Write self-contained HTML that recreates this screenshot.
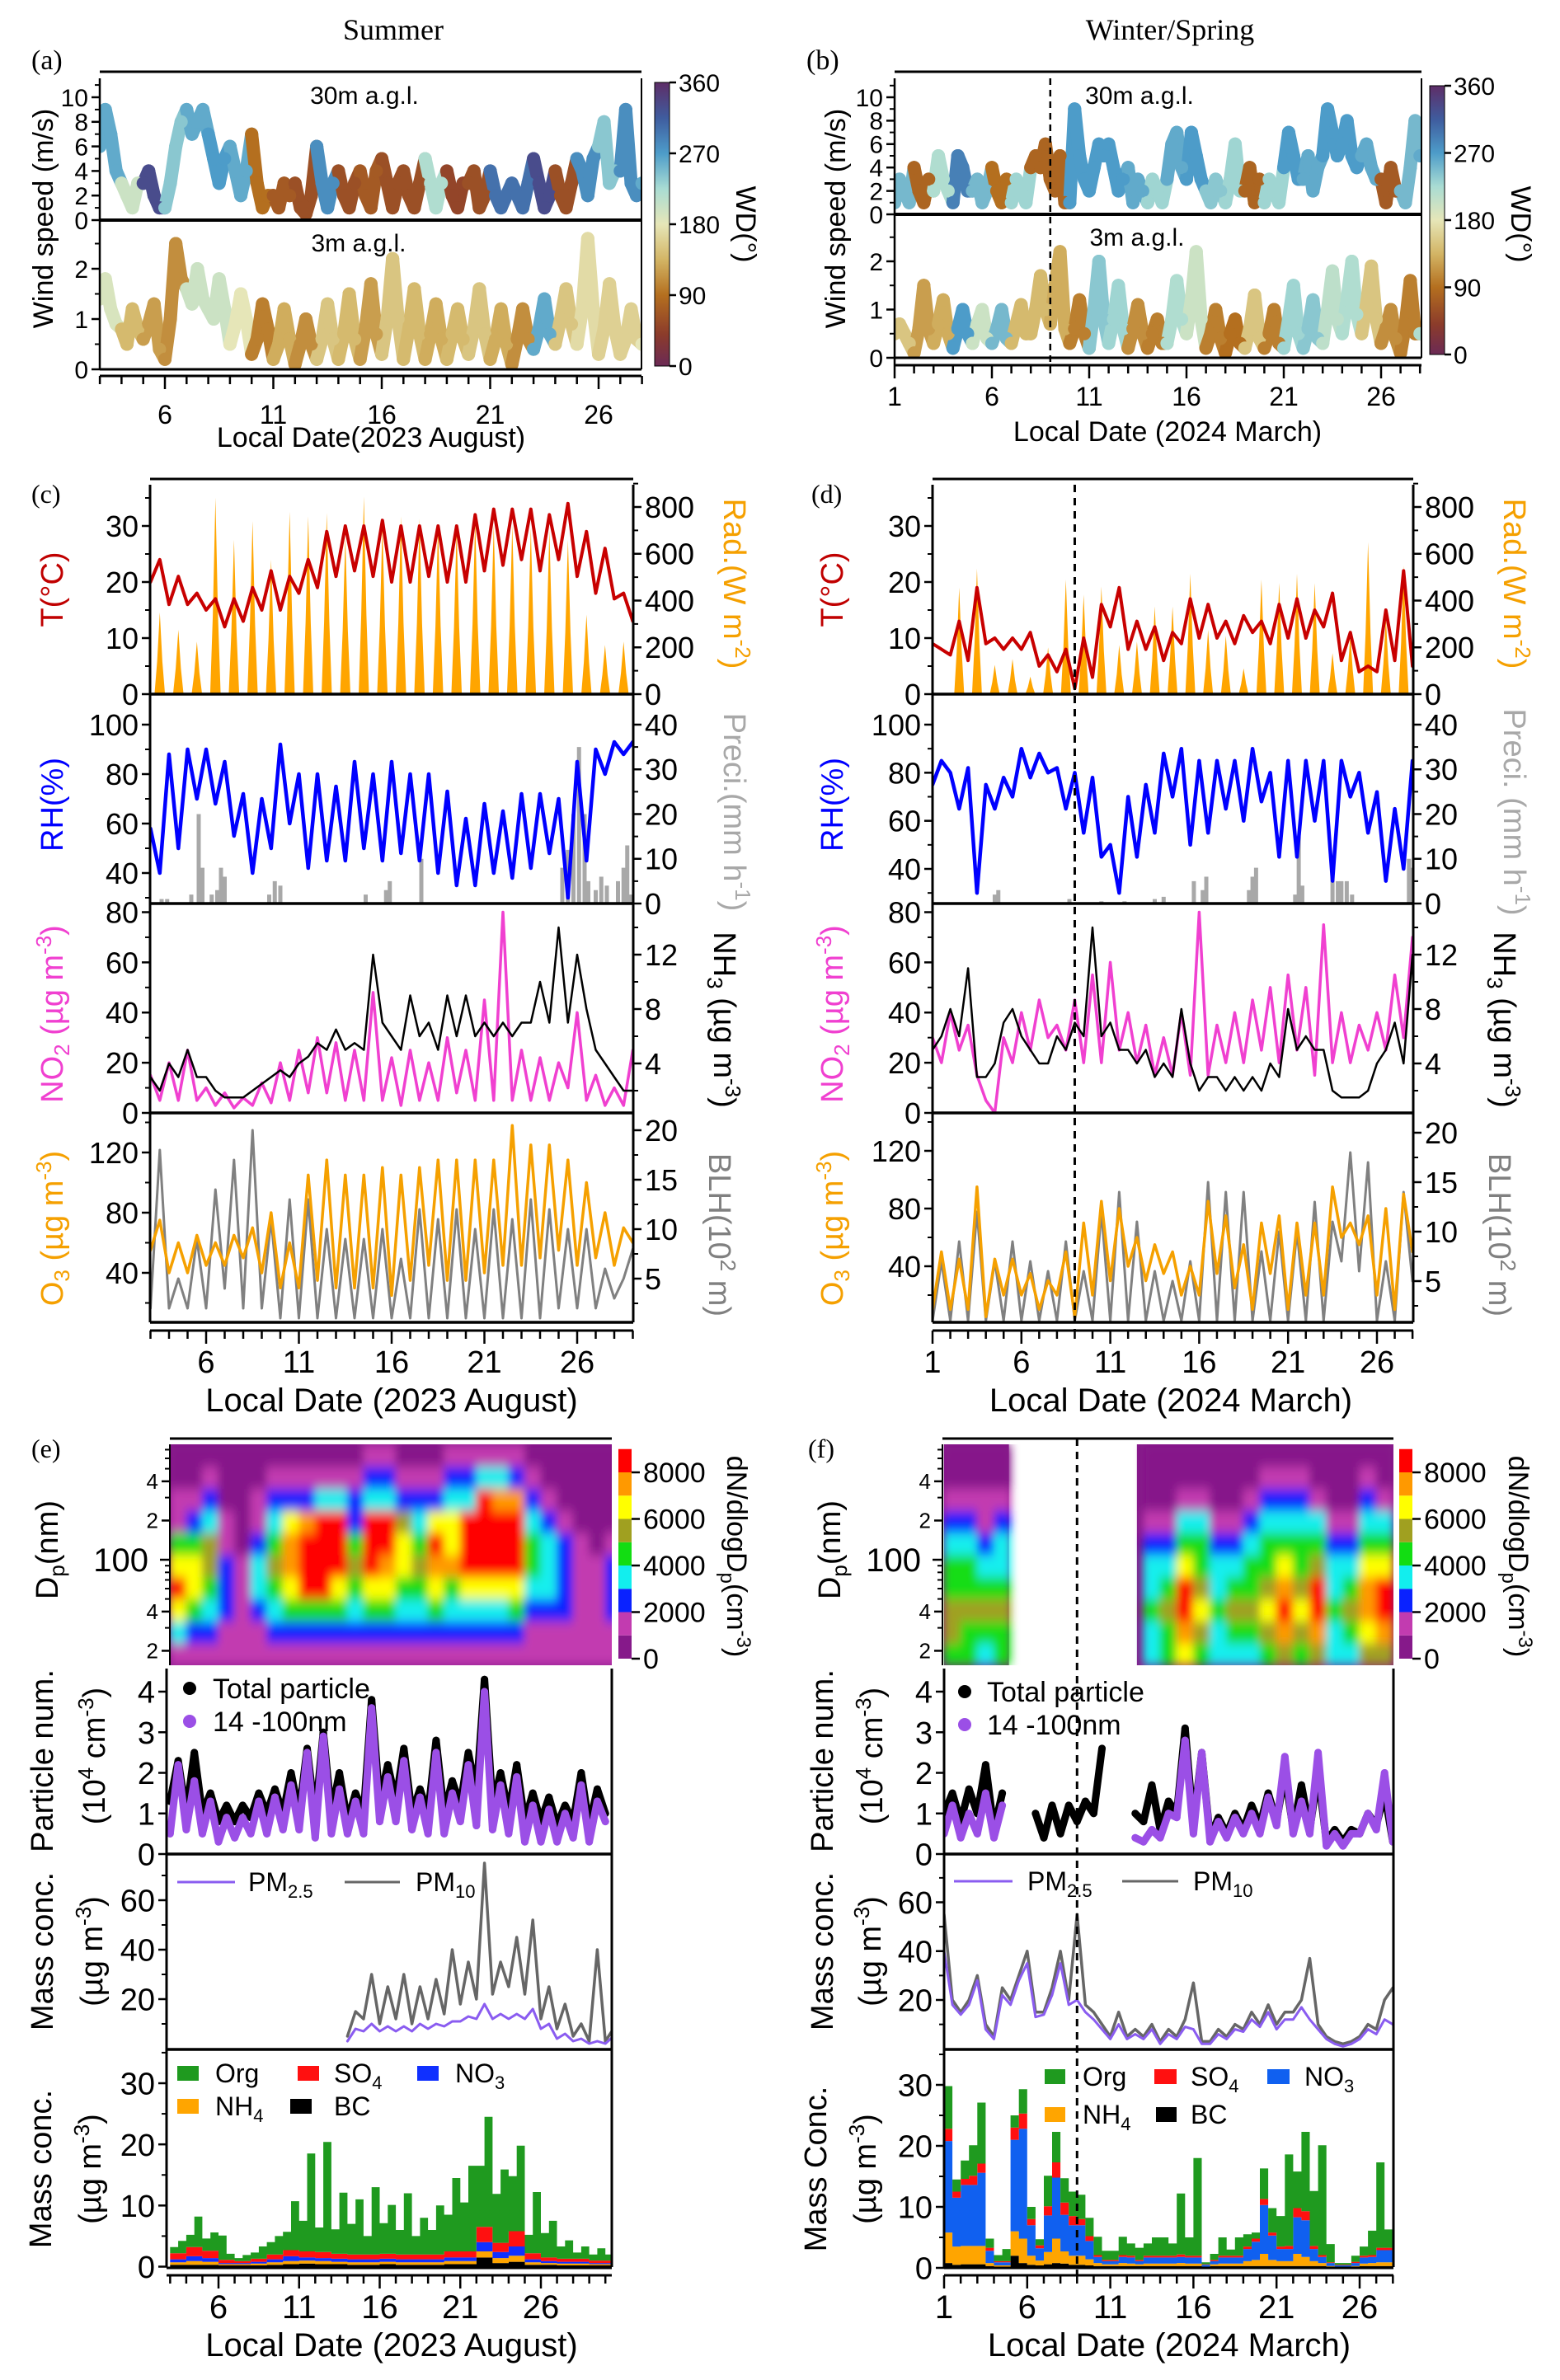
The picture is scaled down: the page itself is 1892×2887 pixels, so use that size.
<!DOCTYPE html>
<html><head><meta charset="utf-8"><title>Meteorology and aerosol time series</title>
<style>
html,body{margin:0;padding:0;background:#fff;}
svg{display:block;}
text{font-family:"Liberation Sans",Arial,sans-serif;fill:#000;}
.serif{font-family:"Liberation Serif","Times New Roman",serif;}
</style></head>
<body>
<svg id="fig" xmlns="http://www.w3.org/2000/svg" width="1892" height="2887" viewBox="0 0 1892 2887">
<defs>
<linearGradient id="wdgrad" x1="0" y1="1" x2="0" y2="0">
<stop offset="0" stop-color="#6b2a55"/><stop offset="0.11" stop-color="#8b3b2b"/><stop offset="0.25" stop-color="#b46f1f"/><stop offset="0.375" stop-color="#d3b565"/><stop offset="0.5" stop-color="#e6e6b8"/><stop offset="0.625" stop-color="#a9dcd3"/><stop offset="0.75" stop-color="#4d9cc9"/><stop offset="0.875" stop-color="#3f5c9e"/><stop offset="1" stop-color="#5e2d67"/>
</linearGradient>
<filter id="soft" x="0" y="0" width="1" height="1"><feGaussianBlur stdDeviation="5,7"/></filter>
<clipPath id="cA1"><rect x="121" y="90" width="657" height="177"/></clipPath>
<clipPath id="cA2"><rect x="121" y="267" width="657" height="181"/></clipPath>
<clipPath id="cB1"><rect x="1085" y="90" width="639" height="170"/></clipPath>
<clipPath id="cB2"><rect x="1085" y="260" width="639" height="174"/></clipPath>
<clipPath id="cC1"><rect x="182" y="588" width="586" height="254"/></clipPath>
<clipPath id="cC2"><rect x="182" y="842" width="586" height="254"/></clipPath>
<clipPath id="cC3"><rect x="182" y="1096" width="586" height="254"/></clipPath>
<clipPath id="cC4"><rect x="182" y="1350" width="586" height="254"/></clipPath>
<clipPath id="cD1"><rect x="1131" y="588" width="583" height="254"/></clipPath>
<clipPath id="cD2"><rect x="1131" y="842" width="583" height="254"/></clipPath>
<clipPath id="cD3"><rect x="1131" y="1096" width="583" height="254"/></clipPath>
<clipPath id="cD4"><rect x="1131" y="1350" width="583" height="256"/></clipPath>
<clipPath id="cE0"><rect x="206" y="1752" width="536" height="268"/></clipPath>
<clipPath id="cE1"><rect x="202" y="2024" width="540" height="225"/></clipPath>
<clipPath id="cE2"><rect x="202" y="2255" width="540" height="230"/></clipPath>
<clipPath id="cE3"><rect x="206" y="2490" width="536" height="260"/></clipPath>
<clipPath id="cF0"><rect x="1143" y="1752" width="547" height="268"/></clipPath>
<clipPath id="cF1"><rect x="1145" y="2024" width="545" height="225"/></clipPath>
<clipPath id="cF2"><rect x="1145" y="2255" width="545" height="230"/></clipPath>
<clipPath id="cF3"><rect x="1145" y="2490" width="545" height="261"/></clipPath>
</defs>

<text class="serif" x="477" y="48" font-size="36" text-anchor="middle">Summer</text>
<text class="serif" x="1419" y="48" font-size="36" text-anchor="middle">Winter/Spring</text>
<text class="serif" x="38" y="84" font-size="34">(a)</text>
<text class="serif" x="978" y="84" font-size="34">(b)</text>
<text class="serif" x="38" y="610" font-size="32">(c)</text>
<text class="serif" x="984" y="610" font-size="32">(d)</text>
<text class="serif" x="38" y="1768" font-size="32">(e)</text>
<text class="serif" x="980" y="1768" font-size="32">(f)</text>

<text x="442" y="126" font-size="30" text-anchor="middle">30m a.g.l.</text>
<text x="435" y="305" font-size="30" text-anchor="middle">3m a.g.l.</text>
<text transform="translate(64,265) rotate(-90)" font-size="34" text-anchor="middle">Wind speed (m/s)</text>
<text transform="translate(893,272) rotate(90)" font-size="34" text-anchor="middle">WD(°)</text>
<text x="450" y="542" font-size="34" text-anchor="middle">Local Date(2023 August)</text>
<text x="1382" y="126" font-size="30" text-anchor="middle">30m a.g.l.</text>
<text x="1379" y="298" font-size="30" text-anchor="middle">3m a.g.l.</text>
<text transform="translate(1025,265) rotate(-90)" font-size="34" text-anchor="middle">Wind speed (m/s)</text>
<text transform="translate(1833,272) rotate(90)" font-size="34" text-anchor="middle">WD(°)</text>
<text x="1416" y="535" font-size="34" text-anchor="middle">Local Date (2024 March)</text>

<text transform="translate(76,715) rotate(-90)" font-size="38" text-anchor="middle" style="fill:#c00000">T(°C)</text>
<text transform="translate(76,976) rotate(-90)" font-size="38" text-anchor="middle" style="fill:#0000ff">RH(%)</text>
<text transform="translate(76,1230) rotate(-90)" font-size="38" text-anchor="middle" style="fill:#f040d0">NO<tspan font-size="26" dy="8">2</tspan><tspan dy="-8"> (µg m</tspan><tspan font-size="26" dy="-14">-3</tspan><tspan dy="14">)</tspan></text>
<text transform="translate(76,1490) rotate(-90)" font-size="38" text-anchor="middle" style="fill:#f5a000">O<tspan font-size="26" dy="8">3</tspan><tspan dy="-8"> (µg m</tspan><tspan font-size="26" dy="-14">-3</tspan><tspan dy="14">)</tspan></text>
<text transform="translate(878,708) rotate(90)" font-size="38" text-anchor="middle" style="fill:#f5a000">Rad.(W m<tspan font-size="26" dy="-14">-2</tspan><tspan dy="14">)</tspan></text>
<text transform="translate(878,985) rotate(90)" font-size="38" text-anchor="middle" style="fill:#a8a8a8">Preci.(mm h<tspan font-size="26" dy="-14">-1</tspan><tspan dy="14">)</tspan></text>
<text transform="translate(866,1237) rotate(90)" font-size="38" text-anchor="middle">NH<tspan font-size="26" dy="8">3</tspan><tspan dy="-8"> (µg m</tspan><tspan font-size="26" dy="-14">-3</tspan><tspan dy="14">)</tspan></text>
<text transform="translate(860,1498) rotate(90)" font-size="38" text-anchor="middle" style="fill:#808080">BLH(10<tspan font-size="26" dy="-14">2</tspan><tspan dy="14"> m)</tspan></text>
<text x="475" y="1712" font-size="40" text-anchor="middle">Local Date (2023 August)</text>
<text transform="translate(1022,715) rotate(-90)" font-size="38" text-anchor="middle" style="fill:#c00000">T(°C)</text>
<text transform="translate(1022,976) rotate(-90)" font-size="38" text-anchor="middle" style="fill:#0000ff">RH(%)</text>
<text transform="translate(1022,1230) rotate(-90)" font-size="38" text-anchor="middle" style="fill:#f040d0">NO<tspan font-size="26" dy="8">2</tspan><tspan dy="-8"> (µg m</tspan><tspan font-size="26" dy="-14">-3</tspan><tspan dy="14">)</tspan></text>
<text transform="translate(1022,1490) rotate(-90)" font-size="38" text-anchor="middle" style="fill:#f5a000">O<tspan font-size="26" dy="8">3</tspan><tspan dy="-8"> (µg m</tspan><tspan font-size="26" dy="-14">-3</tspan><tspan dy="14">)</tspan></text>
<text transform="translate(1824,708) rotate(90)" font-size="38" text-anchor="middle" style="fill:#f5a000">Rad.(W m<tspan font-size="26" dy="-14">-2</tspan><tspan dy="14">)</tspan></text>
<text transform="translate(1824,985) rotate(90)" font-size="38" text-anchor="middle" style="fill:#a8a8a8">Preci. (mm h<tspan font-size="26" dy="-14">-1</tspan><tspan dy="14">)</tspan></text>
<text transform="translate(1812,1237) rotate(90)" font-size="38" text-anchor="middle">NH<tspan font-size="26" dy="8">3</tspan><tspan dy="-8"> (µg m</tspan><tspan font-size="26" dy="-14">-3</tspan><tspan dy="14">)</tspan></text>
<text transform="translate(1806,1498) rotate(90)" font-size="38" text-anchor="middle" style="fill:#808080">BLH(10<tspan font-size="26" dy="-14">2</tspan><tspan dy="14"> m)</tspan></text>
<text x="1420" y="1712" font-size="40" text-anchor="middle">Local Date (2024 March)</text>

<text transform="translate(70,1880) rotate(-90)" font-size="38" text-anchor="middle">D<tspan font-size="26" dy="8">p</tspan><tspan dy="-8">(nm)</tspan></text>
<text transform="translate(64,2136) rotate(-90)" font-size="38" text-anchor="middle">Particle num.</text>
<text transform="translate(127,2130) rotate(-90)" font-size="38" text-anchor="middle">(10<tspan font-size="26" dy="-14">4</tspan><tspan dy="14"> cm</tspan><tspan font-size="26" dy="-14">-3</tspan><tspan dy="14">)</tspan></text>
<text transform="translate(64,2367) rotate(-90)" font-size="38" text-anchor="middle">Mass conc.</text>
<text transform="translate(124,2367) rotate(-90)" font-size="38" text-anchor="middle">(µg m<tspan font-size="26" dy="-14">-3</tspan><tspan dy="14">)</tspan></text>
<text transform="translate(62,2631) rotate(-90)" font-size="38" text-anchor="middle">Mass conc.</text>
<text transform="translate(122,2631) rotate(-90)" font-size="38" text-anchor="middle">(µg m<tspan font-size="26" dy="-14">-3</tspan><tspan dy="14">)</tspan></text>
<text transform="translate(882,1888) rotate(90)" font-size="34" text-anchor="middle">dN/dlogD<tspan font-size="24" dy="8">p</tspan><tspan dy="-8">(cm</tspan><tspan font-size="24" dy="-12">-3</tspan><tspan dy="12">)</tspan></text>
<text x="475" y="2858" font-size="40" text-anchor="middle">Local Date (2023 August)</text>
<text transform="translate(1019,1880) rotate(-90)" font-size="38" text-anchor="middle">D<tspan font-size="26" dy="8">p</tspan><tspan dy="-8">(nm)</tspan></text>
<text transform="translate(1010,2136) rotate(-90)" font-size="38" text-anchor="middle">Particle num.</text>
<text transform="translate(1070,2130) rotate(-90)" font-size="38" text-anchor="middle">(10<tspan font-size="26" dy="-14">4</tspan><tspan dy="14"> cm</tspan><tspan font-size="26" dy="-14">-3</tspan><tspan dy="14">)</tspan></text>
<text transform="translate(1010,2367) rotate(-90)" font-size="38" text-anchor="middle">Mass conc.</text>
<text transform="translate(1068,2367) rotate(-90)" font-size="38" text-anchor="middle">(µg m<tspan font-size="26" dy="-14">-3</tspan><tspan dy="14">)</tspan></text>
<text transform="translate(1002,2631) rotate(-90)" font-size="38" text-anchor="middle">Mass Conc.</text>
<text transform="translate(1062,2631) rotate(-90)" font-size="38" text-anchor="middle">(µg m<tspan font-size="26" dy="-14">-3</tspan><tspan dy="14">)</tspan></text>
<text transform="translate(1830,1888) rotate(90)" font-size="34" text-anchor="middle">dN/dlogD<tspan font-size="24" dy="8">p</tspan><tspan dy="-8">(cm</tspan><tspan font-size="24" dy="-12">-3</tspan><tspan dy="12">)</tspan></text>
<text x="1418" y="2858" font-size="40" text-anchor="middle">Local Date (2024 March)</text>

<g id="marks"></g>
<g id="axes"></g>

<g>
<circle cx="230" cy="2048" r="8" fill="#000"/>
<text x="258" y="2060" font-size="34">Total particle</text>
<circle cx="230" cy="2088" r="8" fill="#9b4fe6"/>
<text x="258" y="2100" font-size="34">14 -100nm</text>
</g>
<g>
<circle cx="1170" cy="2052" r="8" fill="#000"/>
<text x="1197" y="2064" font-size="34">Total particle</text>
<circle cx="1170" cy="2092" r="8" fill="#9b4fe6"/>
<text x="1197" y="2104" font-size="34">14 -100nm</text>
</g>
<g>
<line x1="215" y1="2283" x2="285" y2="2283" stroke="#8a5cf0" stroke-width="3"/>
<text x="301" y="2294" font-size="32">PM<tspan font-size="22" dy="8">2.5</tspan></text>
<line x1="418" y1="2283" x2="485" y2="2283" stroke="#666" stroke-width="3"/>
<text x="504" y="2294" font-size="32">PM<tspan font-size="22" dy="8">10</tspan></text>
</g>
<g>
<line x1="1157" y1="2282" x2="1228" y2="2282" stroke="#8a5cf0" stroke-width="3"/>
<text x="1246" y="2293" font-size="32">PM<tspan font-size="22" dy="8">2.5</tspan></text>
<line x1="1361" y1="2282" x2="1429" y2="2282" stroke="#666" stroke-width="3"/>
<text x="1447" y="2293" font-size="32">PM<tspan font-size="22" dy="8">10</tspan></text>
</g>
<g>
<rect x="215" y="2506" width="26" height="18" fill="#1f9a1f"/>
<text x="261" y="2526" font-size="32">Org</text>
<rect x="361" y="2506" width="26" height="18" fill="#ff1010"/>
<text x="405" y="2526" font-size="32">SO<tspan font-size="22" dy="8">4</tspan></text>
<rect x="506" y="2506" width="26" height="18" fill="#1030ff"/>
<text x="552" y="2526" font-size="32">NO<tspan font-size="22" dy="8">3</tspan></text>
<rect x="215" y="2546" width="26" height="18" fill="#ffa500"/>
<text x="261" y="2566" font-size="32">NH<tspan font-size="22" dy="8">4</tspan></text>
<rect x="352" y="2546" width="26" height="18" fill="#000"/>
<text x="405" y="2566" font-size="32">BC</text>
</g>
<g>
<rect x="1267" y="2510" width="25" height="18" fill="#1f9a1f"/>
<text x="1313" y="2530" font-size="32">Org</text>
<rect x="1400" y="2510" width="27" height="18" fill="#ff1010"/>
<text x="1444" y="2530" font-size="32">SO<tspan font-size="22" dy="8">4</tspan></text>
<rect x="1537" y="2510" width="27" height="18" fill="#1060f0"/>
<text x="1582" y="2530" font-size="32">NO<tspan font-size="22" dy="8">3</tspan></text>
<rect x="1267" y="2556" width="25" height="18" fill="#ffa500"/>
<text x="1313" y="2576" font-size="32">NH<tspan font-size="22" dy="8">4</tspan></text>
<rect x="1402" y="2556" width="25" height="18" fill="#000"/>
<text x="1444" y="2576" font-size="32">BC</text>
</g>
</svg>

<script>
// ---------------- DATA ----------------
const wsA30 = [6,9,7,4, 3,2,1,3, 3,4,2,1, 1,3,6,8, 9,7,8,9, 7,5,3,5, 6,4,2,4, 7,3,1,2, 2,1,3,2, 3,1,0.5,2, 6,3,1,3, 4,2,1,3, 4,2,1,4, 5,3,1,3, 4,2,1,3, 5,3,1,3, 4,2,1,3, 3,4,1,2, 4,2,1,2, 3,2,1,3, 5,3,1,2, 4,2,1,3, 5,4,2,5, 6,8,3,4, 4,9,3,2, 3];
const dirA30 = [260,200,330,240,260,270,260,90,70,60,280,60,70,60,60,220,50,60,300,300,330,60,280,240,280,260];
const wsA3 = [1.4,1.8,1.2,0.9, 0.8,0.5,1.2,0.8, 0.6,0.9,1.3,0.4, 0.2,1.0,2.5,1.8, 1.6,1.3,2.0,1.4, 1.2,1.0,1.8,1.2, 0.5,0.9,1.5,1.0, 0.3,0.6,1.3,0.8, 0.2,0.5,1.2,0.6, 0.1,0.5,1.0,0.5, 0.2,0.6,1.3,0.6, 0.2,0.7,1.5,0.6, 0.2,0.8,1.7,0.7, 0.3,1.0,2.2,1.0, 0.2,0.8,1.6,0.7, 0.2,0.7,1.3,0.6, 0.2,0.7,1.2,0.6, 0.3,0.8,1.6,0.7, 0.2,0.6,1.2,0.5, 0.1,0.6,1.2,0.6, 0.4,0.8,1.4,0.7, 0.5,1.0,1.6,0.9, 0.5,1.2,2.6,1.2, 0.3,0.8,1.7,0.8, 0.3,0.6,1.2,0.6, 0.5];
const dirA3 = [190,140,120,110,200,200,180,100,130,110,150,140,120,150,140,130,140,150,130,110,260,150,170,160,160,180];
const wsB30 = [1,3,2,1, 4,2,1,3, 2,5,3,2, 1,5,4,2, 2,3,1,2, 4,2,1,3, 1,3,2,1, 4,5,4,6, 3,2,5,1, 1,9,5,3, 2,4,6,5, 6,4,2,3, 4,1,3,2, 1,3,2,1, 3,6,7,4, 3,7,5,3, 2,1,3,2, 1,3,6,2, 2,4,1,3, 1,3,2,1, 4,7,5,3, 3,5,2,4, 5,9,7,5, 6,8,5,4, 5,6,4,3, 3,1,4,2, 2,1,4,8, 5];
const dirB30 = [250,80,220,290,250,90,230,80,80,270,270,270,260,230,260,270,240,230,80,230,270,260,270,270,260,70,250,260];
const wsB3 = [0.5,0.7,0.5,0.3, 0.1,0.6,1.5,0.6, 0.3,0.7,1.2,0.5, 0.2,0.6,1.0,0.5, 0.3,0.7,1.0,0.4, 0.3,0.6,1.0,0.4, 0.3,0.7,1.1,0.5, 0.5,1.0,1.7,1.0, 0.7,1.5,2.2,0.6, 0.3,0.6,1.2,0.5, 0.2,1.0,2.0,0.8, 0.3,0.8,1.5,0.6, 0.2,0.6,1.1,0.5, 0.2,0.5,0.8,0.3, 0.3,0.8,1.6,0.8, 0.5,1.2,2.2,0.8, 0.2,0.5,1.0,0.4, 0.1,0.5,0.8,0.3, 0.2,0.6,1.3,0.4, 0.2,0.5,1.0,0.3, 0.2,0.8,1.5,0.5, 0.2,0.6,1.2,0.4, 0.3,1.0,1.8,0.8, 0.5,1.2,2.0,0.9, 0.5,1.1,1.9,0.8, 0.3,0.6,1.0,0.4, 0.1,0.7,1.6,0.5, 0.5];
const dirB3 = [150,120,130,270,200,250,140,140,130,100,240,230,110,100,220,200,100,90,150,100,230,240,210,220,150,110,100,220];

const tempS = [20,24,16,21,16,18,15,17,12,17,13,19,15,22,15,21,18,24,19,29,21,30,22,30,21,31,20,30,20,30,21,30,20,30,20,32,22,33,23,33,24,33,22,32,24,34,21,29,18,26,17,18,13];
const radS = [350,275,225,840,660,740,575,780,760,775,675,845,725,760,750,725,710,750,725,725,710,700,660,340,210,225];
const rhS = [58,40,88,50,90,70,90,68,85,55,72,40,70,50,92,60,80,42,80,45,75,45,85,50,80,45,85,48,80,45,80,40,73,35,62,35,68,40,65,38,72,42,72,48,70,30,85,45,90,80,93,88,93];
const preciDayS = [3.6,3.9,5.2,5.6,5.8,6.3,6.6,6.8,7.0,9.4,9.7,10.0,14.6,15.7,15.9,17.6,25.2,25.5,25.8,26.1,26.4,26.6,27.0,27.3,27.6,28.2,28.5,28.7,28.9];
const preciValS = [1,1,2,20,8,2,3,8,6,2,5,4,2,3,5,10,8,12,20,35,20,5,3,6,4,5,8,13,2];
const no2S = [15,5,20,5,25,5,10,3,8,2,6,3,12,4,20,5,25,8,30,8,28,5,25,5,48,5,22,3,25,5,20,5,30,8,25,5,45,5,80,5,25,5,22,5,20,10,40,5,15,3,10,3,25];
const nh3S = [3,2,4,3,5,3,3,2,1.5,1.5,1.5,2,2.5,3,3.5,3,4,4.5,5.5,5,6.5,5,5.5,5,12,7,6,5,9,6,7,5,9,6,9,6,7,6,7,6,7,7,10,7,14,7,12,8,5,4,3,2,2];
const o3S = [55,75,40,60,40,65,45,60,45,65,50,70,40,80,30,60,30,105,35,115,30,105,30,105,30,110,25,105,35,110,45,115,35,115,35,115,40,115,45,138,45,125,50,125,55,115,45,100,50,80,45,70,60];
const blhS = [2,18,2,5,2,9,2,14,4,17,2,20,2,11,1,13,1,13,1,10,1,9,1,9,1,10,1,7,1,12,1,11,1,12,1,10,1,12,1,11,1,13,1,12,2,10,2,10,2,6,3,5,8];
const tempW = [9,8,7,13,6,19,9,10,8,10,8,11,5,7,4,8,1,10,3,16,12,19,8,13,8,12,6,11,9,17,10,16,10,13,9,14,11,13,9,16,10,17,10,15,12,18,6,11,4,5,4,15,6,22,5];
const radW = [0,455,537,125,150,75,200,490,425,460,210,225,375,375,515,275,250,110,490,475,515,475,175,250,650,325,550];
const rhW = [75,85,80,65,82,30,75,65,78,70,90,78,88,80,82,65,80,55,78,45,50,30,70,45,75,55,88,70,90,50,85,55,85,65,85,60,90,68,80,45,85,45,85,60,85,35,85,70,80,55,72,35,65,40,85];
const preciDayW = [4.5,4.7,8.7,10.5,11.8,13.5,14.0,15.7,16.2,16.4,18.8,19.0,19.2,21.4,21.6,21.8,23.5,23.8,24.0,24.3,24.6,27.8,28.0];
const preciValW = [2,3,1,0.5,0.5,1,1.5,5,3,6,3,6,8,2,15,4,6,5,5,5,2,10,8];
const no2W = [30,20,40,25,35,15,5,0,30,20,40,25,45,30,35,25,45,20,55,20,60,25,40,20,35,15,30,15,40,15,80,15,35,20,40,20,45,25,50,20,55,25,50,15,75,20,40,20,35,25,40,25,55,30,70];
const nh3W = [5,6,8,6,11,3,3,4,7,8,6,5,4,4,6,5,7,6,14,6,7,5,5,4,5,3,4,3,8,4,2,3,3,2,3,2,3,2,4,3,8,5,6,5,5,2,1.5,1.5,1.5,2,4,5,7,4,12];
const o3W = [10,50,10,45,10,95,5,45,20,45,20,35,10,30,20,50,5,70,20,85,30,80,40,60,30,55,35,50,20,40,20,85,35,75,25,55,10,70,35,75,10,70,20,70,20,95,60,70,55,75,20,80,10,90,50];
const blhW = [1,7,1,9,1,12,1,7,1,9,1,7,1,6,1,9,1,6,1,12,1,14,1,11,1,6,1,5,1,7,1,15,1,14,1,14,1,8,1,10,1,10,1,13,1,11,7,18,6,17,1,7,1,14,5];

const heatE = ["1368641100","1246642100","1234553210","1122211000","1111100000","1123321100","1234543210","1246776210","1248887210","1248888310","1246888310","1234542210","1246888321","1246788321","1234665210","1234543210","1246786210","1234766321","1236888321","1236888831","1236888731","1246888721","1123443210","1123332100","1122221000","1111110000","1111100000","1122210000"];
const heatF = ["4554432100","4454432100","3454321100","4454332100","","","","","","","","","3343321000","4454321000","6788643100","4565443100","3343321000","3454321000","3454432100","4565443210","5787643210","4565443210","5788543100","3343321000","3454321000","5677643210","5788643100"];

const pnTotE = [1.3,2.3,1,2.5,1,1.5,0.8,1.2,0.8,1.2,0.9,1.5,1,1.6,1,2.0,1,2.6,0.9,3.0,1,2.0,0.8,1.5,1,3.8,1.3,2.2,1.3,2.6,1,1.6,1,2.8,1,1.8,1.2,2.5,1.5,4.3,1.2,2.0,1,2.2,0.8,1.5,0.8,1.4,0.7,1.2,0.8,2.0,0.7,1.6,1.0];
const pnUfE = [0.5,2.2,0.6,1.8,0.5,1.3,0.3,0.9,0.4,0.9,0.5,1.3,0.5,1.4,0.6,1.7,0.6,2.5,0.4,2.9,0.5,1.6,0.5,1.3,0.5,3.6,0.8,1.9,0.8,2.3,0.6,1.4,0.5,2.5,0.5,1.5,0.8,2.2,0.7,4.0,0.6,1.7,0.5,1.9,0.3,1.2,0.3,1.1,0.3,1.0,0.4,1.7,0.3,1.3,0.8];
const pnTotF = [1.0,1.5,0.8,1.6,1.0,2.2,0.6,1.5,null,null,null,1.0,0.4,1.2,0.5,1.2,0.8,1.3,1.0,2.6,null,null,null,1.0,0.8,1.7,0.6,1.3,1.0,3.1,0.7,2.5,0.4,0.9,0.5,1.0,0.6,1.2,0.7,1.5,0.8,2.0,0.6,1.7,0.6,2.0,0.3,0.6,0.3,0.6,0.5,1.0,0.7,1.5,0.3];
const pnUfF = [0.5,1.2,0.4,1.0,0.5,1.5,0.4,1.2,null,null,null,null,null,null,null,null,null,null,null,null,null,null,null,0.4,0.3,0.6,0.4,1.0,0.9,2.8,0.5,2.5,0.3,0.8,0.4,0.9,0.5,1.0,0.5,1.4,0.7,2.4,0.5,1.3,0.5,2.5,0.2,0.5,0.2,0.5,0.5,1.0,0.6,2.0,0.3];

const pm10E = [5,15,12,30,10,25,12,30,10,25,12,28,14,40,18,35,20,75,22,35,25,45,22,52,12,25,8,18,5,10,3,40,3,8,10];
const pm25E = [3,8,7,10,7,9,7,9,7,10,8,10,9,11,11,13,12,18,12,14,12,14,12,16,8,10,4,6,3,4,2,3,2,5,4];
const pm10F = [55,20,15,20,30,10,5,25,20,30,40,15,15,25,40,20,55,18,15,10,5,15,5,8,5,10,3,8,5,12,27,3,3,8,5,10,8,15,10,18,10,15,15,20,37,10,5,3,2,3,5,10,8,20,25,3];
const pm25F = [40,18,14,18,28,8,4,22,18,28,35,13,14,22,35,18,20,15,12,8,4,10,4,6,4,8,2,6,4,9,8,2,2,6,4,8,7,12,9,15,8,12,12,17,12,8,4,2,1,2,4,8,6,12,10,2];

const orgE = [1,2,2,5,2,3,4,1,0.5,1,1,2,2,3,3,8,5,16,4,18,4,10,5,9,3,11,5,8,4,10,3,6,4,8,6,12,8,14,10,18,8,12,9,14,3,10,4,6,2,3,1,2,1,2,1,2];
const so4E = [1,1.5,1.2,0.5,0.3,0.5,0.8,1,1,1,0.8,0.8,0.8,0.8,0.8,0.8,0.8,1,1,2.5,1.5,2.5,1,0.6,0.5,0.5,0.4,0.4];
const no3E = [0.5,0.8,0.6,0.2,0.2,0.3,0.5,0.8,0.5,0.5,0.5,0.5,0.5,0.5,0.5,0.5,0.5,0.6,0.6,1.5,1,1.5,0.5,0.3,0.3,0.3,0.2,0.2];
const nh4E = [0.4,0.6,0.5,0.2,0.2,0.3,0.4,0.5,0.5,0.5,0.4,0.4,0.4,0.4,0.4,0.4,0.4,0.5,0.5,1,0.8,1,0.4,0.3,0.3,0.3,0.2,0.2];
const bcE = [0.3,0.3,0.3,0.2,0.2,0.2,0.3,0.4,0.5,0.4,0.4,0.3,0.3,0.4,0.3,0.3,0.3,0.4,0.4,1.5,0.6,0.8,0.3,0.3,0.2,0.2,0.2,0.2];
const orgF = [7,2,3,5,10,1.5,1,2,2,4,2,1,5,5,4,4,4,3,3,1.5,1.5,3,2,2,2,3,3,2,10,3,16,0.3,1,3,1,3,2,1,5,4,5,15,6,13,9,18,3,0.3,0.3,1,1.5,4,14,3,5,1];
const no3F = [15,8,10,10,12,2,0.5,0.5,15,18,5,2,6,10,6,5,5,3,1,0.5,0.5,1,1,0.5,1,1,1,1,1,1,1,0.3,0.5,1,1,1,2,3,8,4,2,2,6,6,2,1,0.5,0.2,0.2,0.5,1,1,2,2,6,1];
const so4F = [2,1,1,1.5,1.5,0.5,0.2,0.2,2,2.5,1,0.5,1.5,2.5,2,1.5,1,0.8,0.3,0.2,0.2,0.3,0.3,0.2,0.3,0.3,0.3,0.3,0.4,0.3,0.3,0.1,0.2,0.3,0.3,0.3,0.4,0.5,1,0.5,0.4,0.5,1.5,1.5,0.5,0.3,0.1,0.1,0.1,0.2,0.3,0.3,0.4,0.4,0.5,0.1];
const nh4F = [5,3,3,3,3,0.5,0.2,0.2,4,4,1.5,0.8,2,4,2,1.5,1.5,1,0.5,0.3,0.3,0.5,0.4,0.3,0.4,0.4,0.4,0.4,0.5,0.4,0.4,0.1,0.3,0.4,0.4,0.4,0.8,1,2,1,0.8,0.8,2,1.5,0.8,0.5,0.2,0.1,0.1,0.2,0.4,0.5,0.6,0.6,1.5,0.2];
const bcF = [0.8,0.5,0.6,0.6,0.6,0.3,0.2,0.2,2,0.8,0.5,0.4,0.6,0.8,0.7,0.5,0.5,0.4,0.3,0.3,0.3,0.3,0.3,0.3,0.3,0.3,0.3,0.3,0.3,0.3,0.3,0.1,0.3,0.3,0.3,0.3,0.3,0.3,0.3,0.3,0.3,0.3,0.3,0.3,0.3,0.3,0.1,0.1,0.1,0.1,0.3,0.3,0.3,0.3,0.4,0.1];

const dayTicksS = [6,11,16,21,26];
const dayTicksW = [1,6,11,16,21,26];
const wdTicks = [0,90,180,270,360];
const heatTicks = [0,2000,4000,6000,8000];

// ---------------- DRAWING ----------------
const NS = 'http://www.w3.org/2000/svg';
const marks = document.getElementById('marks');
const axes = document.getElementById('axes');
function mk(parent, tag, attrs) {
  const el = document.createElementNS(NS, tag);
  for (const k in attrs) el.setAttribute(k, attrs[k]);
  parent.appendChild(el);
  return el;
}
function nm(el, n) {
  
  
}
function lin(v0, p0, v1, p1) { return v => p0 + (v - v0) * (p1 - p0) / (v1 - v0); }
function grp(clip, name) {
  const g = mk(marks, 'g', clip ? {'clip-path': 'url(#' + clip + ')'} : {});
  nm(g, name);
  return g;
}

const WDS = [[0,[107,42,85]],[40,[139,59,43]],[90,[180,111,31]],[135,[211,181,101]],[180,[230,230,184]],[225,[169,220,211]],[270,[77,156,201]],[315,[63,92,158]],[360,[94,45,103]]];
function wdColor(d) {
  for (let i = 0; i < WDS.length - 1; i++) {
    if (d <= WDS[i+1][0]) {
      const t = (d - WDS[i][0]) / (WDS[i+1][0] - WDS[i][0]);
      const c = WDS[i][1].map((v, j) => Math.round(v + t * (WDS[i+1][1][j] - v)));
      return 'rgb(' + c.join(',') + ')';
    }
  }
  return 'rgb(94,45,103)';
}

function linePath(g, vals, start, step, xf, yf, color, w, name) {
  let d = '', pen = false;
  vals.forEach((v, i) => {
    if (v === null) { pen = false; return; }
    d += (pen ? 'L' : 'M') + xf(start + i * step).toFixed(1) + ',' + yf(v).toFixed(1);
    pen = true;
  });
  const p = mk(g, 'path', {d: d, fill: 'none', stroke: color, 'stroke-width': w, 'stroke-linejoin': 'round', 'stroke-linecap': 'round'});
  nm(p, name);
  return p;
}

function windScatter(g, vals, dirs, start, xf, yf, name) {
  for (let i = 1; i < vals.length; i++) {
    const c = wdColor(dirs[Math.min(dirs.length - 1, Math.floor((i - 1) / 4))]);
    const s = mk(g, 'line', {x1: xf(start + (i-1)*0.25), y1: yf(vals[i-1]), x2: xf(start + i*0.25), y2: yf(vals[i]), stroke: c, 'stroke-width': 16, 'stroke-linecap': 'round'});
    nm(s, name + '-segment');
  }
  vals.forEach((v, i) => {
    const c = wdColor(dirs[Math.min(dirs.length - 1, Math.floor(i / 4))]);
    const p = mk(g, 'circle', {cx: xf(start + i*0.25), cy: yf(v), r: 8, fill: c});
    nm(p, name + '-point');
  });
}

function radSpikes(g, vals, start, xf, yf, name) {
  vals.forEach((v, i) => {
    const d = start + i;
    const pts = [[d+0.22,0],[d+0.36,v*0.4],[d+0.5,v],[d+0.64,v*0.4],[d+0.78,0]].map(p => xf(p[0]).toFixed(1) + ',' + yf(p[1]).toFixed(1)).join(' ');
    const s = mk(g, 'polygon', {points: pts, fill: '#ffa500'});
    nm(s, name);
  });
}

function bars(g, days, vals, xf, yf, color, name) {
  days.forEach((d, i) => {
    const r = mk(g, 'rect', {x: xf(d) - 2.5, y: yf(vals[i]), width: 5, height: yf(0) - yf(vals[i]), fill: color});
    nm(r, name);
  });
}

function dots(g, vals, start, step, xf, yf, color, name) {
  linePath(g, vals, start, step, xf, yf, color, 9, name + '-trace');
  vals.forEach((v, i) => {
    if (v === null) return;
    const c = mk(g, 'circle', {cx: xf(start + i*step), cy: yf(v), r: 4.5, fill: color});
    nm(c, name + '-point');
  });
}

const HEATC = ['#86198a','#c23bb0','#0a22ff','#12eeee','#12dd12','#a0a020','#ffff00','#ff9900','#ff0000'];
function heatmap(g, cols, start, xf, y0, y1, name) {
  const rows = 10, rh = (y1 - y0) / rows;
  const inner = mk(g, 'g', {filter: 'url(#soft)'});
  nm(inner, name + '-cells');
  cols.forEach((s, i) => {
    if (!s) return;
    for (let r = 0; r < rows; r++) {
      const lvl = +s[r];
      const c = mk(inner, 'rect', {x: xf(start + i) - 0.5, y: y1 - (r+1)*rh - 0.5, width: xf(start + i + 1) - xf(start + i) + 1, height: rh + 1, fill: HEATC[lvl]});
      nm(c, name + '-cell');
    }
  });
}

function lookup(arr, start, step, d) {
  const k = Math.max(0, Math.min(arr.length - 1, Math.floor((d - start) / step + 1e-6)));
  return arr[k];
}
function stack(g, layers, start, step, n, xf, yf, name) {
  let base = new Array(n).fill(0);
  layers.forEach(L => {
    const top = base.map((b, i) => b + lookup(L[0], L[1], L[2], start + i*step));
    let d = '';
    for (let i = 0; i < n; i++) {
      const x0 = xf(start + i*step), x1 = xf(start + (i+1)*step);
      d += (i === 0 ? 'M' : 'L') + x0.toFixed(1) + ',' + yf(top[i]).toFixed(1) + 'L' + x1.toFixed(1) + ',' + yf(top[i]).toFixed(1);
    }
    for (let i = n - 1; i >= 0; i--) {
      const x0 = xf(start + i*step), x1 = xf(start + (i+1)*step);
      d += 'L' + x1.toFixed(1) + ',' + yf(base[i]).toFixed(1) + 'L' + x0.toFixed(1) + ',' + yf(base[i]).toFixed(1);
    }
    const p = mk(g, 'path', {d: d + 'Z', fill: L[3]});
    nm(p, name + '-' + L[4]);
    base = top;
  });
}

function hline(x0, x1, y, w, name) { const l = mk(axes, 'line', {x1: x0, x2: x1, y1: y, y2: y, stroke: '#000', 'stroke-width': w}); nm(l, name); }
function vline(x, y0, y1, w, name, dash) {
  const a = {x1: x, x2: x, y1: y0, y2: y1, stroke: '#000', 'stroke-width': w};
  if (dash) a['stroke-dasharray'] = dash;
  const l = mk(axes, 'line', a); nm(l, name);
}
function txt(x, y, s, fs, anchor, name, color) {
  const t = mk(axes, 'text', {x: x, y: y, 'font-size': fs, 'text-anchor': anchor});
  if (color) t.setAttribute('style', 'fill:' + color);
  t.textContent = s;
  nm(t, name);
}
function yAxis(x, side, vals, yf, fs, name, minors) {
  vals.forEach(v => {
    hline(x, x + side*10, yf(v), 2.5, name + '-tick');
    txt(x + side*14, yf(v) + fs*0.36, String(v), fs, side < 0 ? 'end' : 'start', name + '-label');
  });
  (minors || []).forEach(v => hline(x, x + side*6, yf(v), 2, name + '-minor-tick'));
}
function xAxis(xf, d0, d1, y, majors, labelY, fs, name) {
  for (let d = d0; d <= d1; d++) {
    const isMaj = majors.indexOf(d) >= 0;
    vline(xf(d), y, y + (isMaj ? 16 : 10), 2.5, name + (isMaj ? '-major-tick' : '-minor-tick'));
  }
  majors.forEach(d => txt(xf(d), labelY, String(d), fs, 'middle', name + '-label'));
}
function range(a, b, s) { const r = []; for (let v = a; v <= b + 1e-9; v += s) r.push(+v.toFixed(3)); return r; }

// PANEL A
const xA = lin(6, 200, 26, 726);
const yA30 = lin(0, 267, 10, 118);
const yA3 = lin(0, 448, 2, 326);
windScatter(grp('cA1', 'wind-30m-summer'), wsA30, dirA30, 3, xA, yA30, 'wind-30m-summer');
windScatter(grp('cA2', 'wind-3m-summer'), wsA3, dirA3, 3, xA, yA3, 'wind-3m-summer');
hline(121, 778, 87, 3, 'frame-top-a');
vline(121, 95, 448, 2.5, 'y-axis-a');
vline(778, 95, 448, 2, 'frame-right-a');
hline(121, 778, 267, 4, 'divider-a');
hline(121, 778, 448, 3, 'frame-bottom-a');
hline(121, 778, 456, 3, 'x-axis-a');
xAxis(xA, 3, 28, 456, dayTicksS, 514, 32, 'x-axis-a');
yAxis(121, -1, range(0, 10, 2), yA30, 30, 'y-axis-30m-a', range(1, 11, 2));
yAxis(121, -1, range(0, 2, 1), yA3, 30, 'y-axis-3m-a', [0.5, 1.5, 2.5]);
{ const r = mk(axes, 'rect', {x: 794, y: 100, width: 18, height: 344, fill: 'url(#wdgrad)', stroke: '#000', 'stroke-width': 1}); nm(r, 'wd-colorbar-a'); }
const yCbA = lin(0, 444, 360, 100);
wdTicks.forEach(v => { hline(812, 820, yCbA(v), 2.5, 'wd-colorbar-a-tick'); txt(823, yCbA(v) + 11, String(v), 30, 'start', 'wd-colorbar-a-label'); });

// PANEL B
const xB = lin(1, 1085, 26, 1675);
const yB30 = lin(0, 260, 10, 118);
const yB3 = lin(0, 434, 2, 317);
windScatter(grp('cB1', 'wind-30m-winter'), wsB30, dirB30, 1, xB, yB30, 'wind-30m-winter');
windScatter(grp('cB2', 'wind-3m-winter'), wsB3, dirB3, 1, xB, yB3, 'wind-3m-winter');
hline(1085, 1724, 87, 3, 'frame-top-b');
vline(1085, 95, 443, 2.5, 'y-axis-b');
vline(1724, 95, 434, 2, 'frame-right-b');
hline(1085, 1724, 260, 4, 'divider-b');
hline(1085, 1724, 434, 3, 'frame-bottom-b');
hline(1085, 1724, 443, 3, 'x-axis-b');
vline(xB(9), 95, 443, 2.5, 'event-line-b', '8,6');
xAxis(xB, 1, 28, 443, dayTicksW, 492, 32, 'x-axis-b');
yAxis(1085, -1, range(0, 10, 2), yB30, 30, 'y-axis-30m-b', range(1, 11, 2));
yAxis(1085, -1, range(0, 2, 1), yB3, 30, 'y-axis-3m-b', [0.5, 1.5, 2.5]);
{ const r = mk(axes, 'rect', {x: 1734, y: 104, width: 18, height: 326, fill: 'url(#wdgrad)', stroke: '#000', 'stroke-width': 1}); nm(r, 'wd-colorbar-b'); }
const yCbB = lin(0, 430, 360, 104);
wdTicks.forEach(v => { hline(1752, 1760, yCbB(v), 2.5, 'wd-colorbar-b-tick'); txt(1763, yCbB(v) + 11, String(v), 30, 'start', 'wd-colorbar-b-label'); });

// PANELS C / D
function metPanel(P) {
  const g1 = grp(P.c + '1', 'temp-rad-' + P.s);
  radSpikes(g1, P.rad, P.d0, P.x, P.yR, 'rad-spike-' + P.s);
  linePath(g1, P.temp, P.d0, 0.5, P.x, P.yT, '#c80000', 4, 'temp-line-' + P.s);
  const g2 = grp(P.c + '2', 'rh-preci-' + P.s);
  bars(g2, P.pd, P.pv, P.x, P.yP, '#a8a8a8', 'preci-bar-' + P.s);
  linePath(g2, P.rh, P.d0, 0.5, P.x, P.yRH, '#0000ff', 4.5, 'rh-line-' + P.s);
  const g3 = grp(P.c + '3', 'no2-nh3-' + P.s);
  linePath(g3, P.no2, P.d0, 0.5, P.x, P.yN, '#f040d0', 3.5, 'no2-line-' + P.s);
  linePath(g3, P.nh3, P.d0, 0.5, P.x, P.yH, '#000', 2.5, 'nh3-line-' + P.s);
  const g4 = grp(P.c + '4', 'o3-blh-' + P.s);
  linePath(g4, P.blh, P.d0, 0.5, P.x, P.yB, '#808080', 3, 'blh-line-' + P.s);
  linePath(g4, P.o3, P.d0, 0.5, P.x, P.yO, '#f5a000', 3.5, 'o3-line-' + P.s);
  const L = P.L, R = P.R;
  hline(L, R, 581, 3, 'frame-top-' + P.s);
  vline(L, 588, 1604, 3, 'y-axis-left-' + P.s);
  vline(R, 588, 1604, 3, 'y-axis-right-' + P.s);
  [842, 1096, 1350, 1604].forEach(y => hline(L, R, y, 3.5, 'divider-' + P.s));
  hline(L, R, 1614, 3, 'x-axis-' + P.s);
  xAxis(P.x, P.d0, P.dEnd, 1614, P.ticks, 1665, 38, 'x-axis-' + P.s);
  yAxis(L, -1, range(0, 30, 10), P.yT, 36, 'y-axis-temp-' + P.s, range(5, 35, 10));
  yAxis(L, -1, range(40, 100, 20), P.yRH, 36, 'y-axis-rh-' + P.s, range(30, 90, 20));
  yAxis(L, -1, range(0, 80, 20), P.yN, 36, 'y-axis-no2-' + P.s, range(10, 70, 20));
  yAxis(L, -1, range(40, 120, 40), P.yO, 36, 'y-axis-o3-' + P.s, range(20, 140, 40));
  yAxis(R, 1, range(0, 800, 200), P.yR, 36, 'y-axis-rad-' + P.s, range(100, 900, 200));
  yAxis(R, 1, range(0, 40, 10), P.yP, 36, 'y-axis-preci-' + P.s, range(5, 35, 10));
  yAxis(R, 1, [4, 8, 12], P.yH, 36, 'y-axis-nh3-' + P.s, [2, 6, 10, 14]);
  yAxis(R, 1, range(5, 20, 5), P.yB, 36, 'y-axis-blh-' + P.s, [2.5, 7.5, 12.5, 17.5]);
  if (P.ev) vline(P.x(P.ev), 588, 1614, 3, 'event-line-' + P.s, '9,7');
}
metPanel({s: 'c', c: 'cC', d0: 3, dEnd: 29, L: 182, R: 768, x: lin(6, 250, 26, 700), ticks: dayTicksS,
  temp: tempS, rad: radS, rh: rhS, pd: preciDayS, pv: preciValS, no2: no2S, nh3: nh3S, o3: o3S, blh: blhS,
  yT: lin(0, 842, 30, 638), yR: lin(0, 842, 800, 615), yRH: lin(40, 1059, 100, 879), yP: lin(0, 1096, 40, 879),
  yN: lin(0, 1350, 80, 1106.5), yH: lin(4, 1290, 12, 1158), yO: lin(40, 1544, 120, 1398), yB: lin(5, 1551, 20, 1371)});
metPanel({s: 'd', c: 'cD', d0: 1, dEnd: 28, L: 1131, R: 1714, x: lin(1, 1131, 26, 1670), ticks: dayTicksW, ev: 9,
  temp: tempW, rad: radW, rh: rhW, pd: preciDayW, pv: preciValW, no2: no2W, nh3: nh3W, o3: o3W, blh: blhW,
  yT: lin(0, 842, 30, 638), yR: lin(0, 842, 800, 615), yRH: lin(40, 1054, 100, 879), yP: lin(0, 1096, 40, 879),
  yN: lin(0, 1350, 80, 1106.5), yH: lin(4, 1290, 12, 1158), yO: lin(0, 1606, 120, 1396), yB: lin(5, 1554, 20, 1374)});

// PANELS E / F
function aeroPanel(P) {
  const g0 = grp(P.c + '0', 'size-distribution-' + P.s);
  P.blocks.forEach(b => { const r = mk(g0, 'rect', {x: P.x(b[0]), y: 1752, width: P.x(b[1]) - P.x(b[0]), height: 268, fill: HEATC[0]}); nm(r, 'heatmap-background-' + P.s); });
  heatmap(g0, P.heat, P.hd0, P.x, 1752, 2020, 'heatmap-' + P.s);
  const g1 = grp(P.c + '1', 'particle-number-' + P.s);
  dots(g1, P.tot, P.d0, 0.5, P.x, P.yPN, '#000', 'total-particle-' + P.s);
  dots(g1, P.uf, P.d0, 0.5, P.x, P.yPN, '#9b4fe6', 'ultrafine-particle-' + P.s);
  const g2 = grp(P.c + '2', 'pm-' + P.s);
  linePath(g2, P.pm10, P.pmd0, 0.5, P.x, P.yPM, '#666', 3.5, 'pm10-line-' + P.s);
  linePath(g2, P.pm25, P.pmd0, 0.5, P.x, P.yPM, '#8a5cf0', 3, 'pm25-line-' + P.s);
  const g3 = grp(P.c + '3', 'chemistry-' + P.s);
  stack(g3, P.layers, P.d0, 0.5, P.nChem, P.x, P.yC, 'chem-area-' + P.s);
  const L = P.L, R = P.R;
  hline(P.hL, R, 1745, 3, 'frame-top-' + P.s);
  const yD = v => 1892 - Math.log10(v / 100) * 158;
  [[20,'2'],[40,'4'],[200,'2'],[400,'4']].forEach(t => { hline(P.hL, P.hL - 10, yD(t[0]), 2.5, 'dp-axis-' + P.s + '-tick'); txt(P.hL - 14, yD(t[0]) + 9, t[1], 26, 'end', 'dp-axis-' + P.s + '-label'); });
  hline(P.hL, P.hL - 12, yD(100), 2.5, 'dp-axis-' + P.s + '-tick');
  txt(P.hL - 26, yD(100) + 14, '100', 40, 'end', 'dp-axis-' + P.s + '-label');
  [30,50,60,70,80,90,300,500,600,700].forEach(v => hline(P.hL, P.hL - 6, yD(v), 2, 'dp-axis-' + P.s + '-minor-tick'));
  vline(P.hL, 1752, 2020, 2, 'dp-axis-' + P.s);
  const yCb = lin(0, 2012, 8000, 1786);
  for (let k = 0; k < 9; k++) { const r = mk(axes, 'rect', {x: P.cb, y: yCb(k*1000 + 1000), width: 16, height: yCb(k*1000) - yCb(k*1000 + 1000), fill: HEATC[k]}); nm(r, 'heat-colorbar-' + P.s + '-band'); }
  heatTicks.forEach(v => { hline(P.cb + 16, P.cb + 26, yCb(v), 2.5, 'heat-colorbar-' + P.s + '-tick'); txt(P.cb + 30, yCb(v) + 12, String(v), 34, 'start', 'heat-colorbar-' + P.s + '-label'); });
  vline(L, 2024, 2750, 3, 'y-axis-left-' + P.s);
  vline(R, 2024, 2750, 3, 'frame-right-' + P.s);
  hline(L, R, 2249, 3.5, 'divider-pn-' + P.s);
  hline(L, R, 2486, 3.5, 'divider-pm-' + P.s);
  hline(L, R, 2751, 3, 'frame-bottom-' + P.s);
  hline(L, R, 2760, 3, 'x-axis-' + P.s);
  xAxis(P.x, P.d0, P.dEnd, 2760, P.ticks, 2812, 40, 'x-axis-' + P.s);
  yAxis(L, -1, range(0, 4, 1), P.yPN, 38, 'y-axis-pn-' + P.s, []);
  yAxis(L, -1, range(20, 60, 20), P.yPM, 38, 'y-axis-pm-' + P.s, range(10, 70, 10));
  yAxis(L, -1, range(0, 30, 10), P.yC, 38, 'y-axis-chem-' + P.s, range(5, 35, 10));
  if (P.ev) vline(P.x(P.ev), 1745, 2760, 3, 'event-line-' + P.s, '9,7');
}
aeroPanel({s: 'e', c: 'cE', d0: 3, dEnd: 30, L: 202, R: 742, hL: 206, cb: 750, x: lin(6, 265, 26, 656), ticks: dayTicksS,
  blocks: [[3, 30.5]], heat: heatE, hd0: 3, tot: pnTotE, uf: pnUfE, pmd0: 14, pm10: pm10E, pm25: pm25E, nChem: 56,
  layers: [[bcE, 3, 1, '#000', 'bc'], [nh4E, 3, 1, '#ffa500', 'nh4'], [no3E, 3, 1, '#1030ff', 'no3'], [so4E, 3, 1, '#ff1010', 'so4'], [orgE, 3, 0.5, '#1f9a1f', 'org']],
  yPN: lin(0, 2249, 4, 2052), yPM: lin(20, 2425, 60, 2305), yC: lin(0, 2749.5, 30, 2527)});
aeroPanel({s: 'f', c: 'cF', d0: 1, dEnd: 28, L: 1145, R: 1690, hL: 1143, cb: 1697, x: lin(1, 1145, 26, 1649), ticks: dayTicksW, ev: 9,
  blocks: [[1, 4.9], [12.6, 28.2]], heat: heatF, hd0: 1, tot: pnTotF, uf: pnUfF, pmd0: 1, pm10: pm10F, pm25: pm25F, nChem: 56,
  layers: [[bcF, 1, 0.5, '#000', 'bc'], [nh4F, 1, 0.5, '#ffa500', 'nh4'], [no3F, 1, 0.5, '#1060f0', 'no3'], [so4F, 1, 0.5, '#ff1010', 'so4'], [orgF, 1, 0.5, '#1f9a1f', 'org']],
  yPN: lin(0, 2249, 4, 2052), yPM: lin(20, 2426, 60, 2307.5), yC: lin(0, 2751, 30, 2529)});
</script>
</body></html>
